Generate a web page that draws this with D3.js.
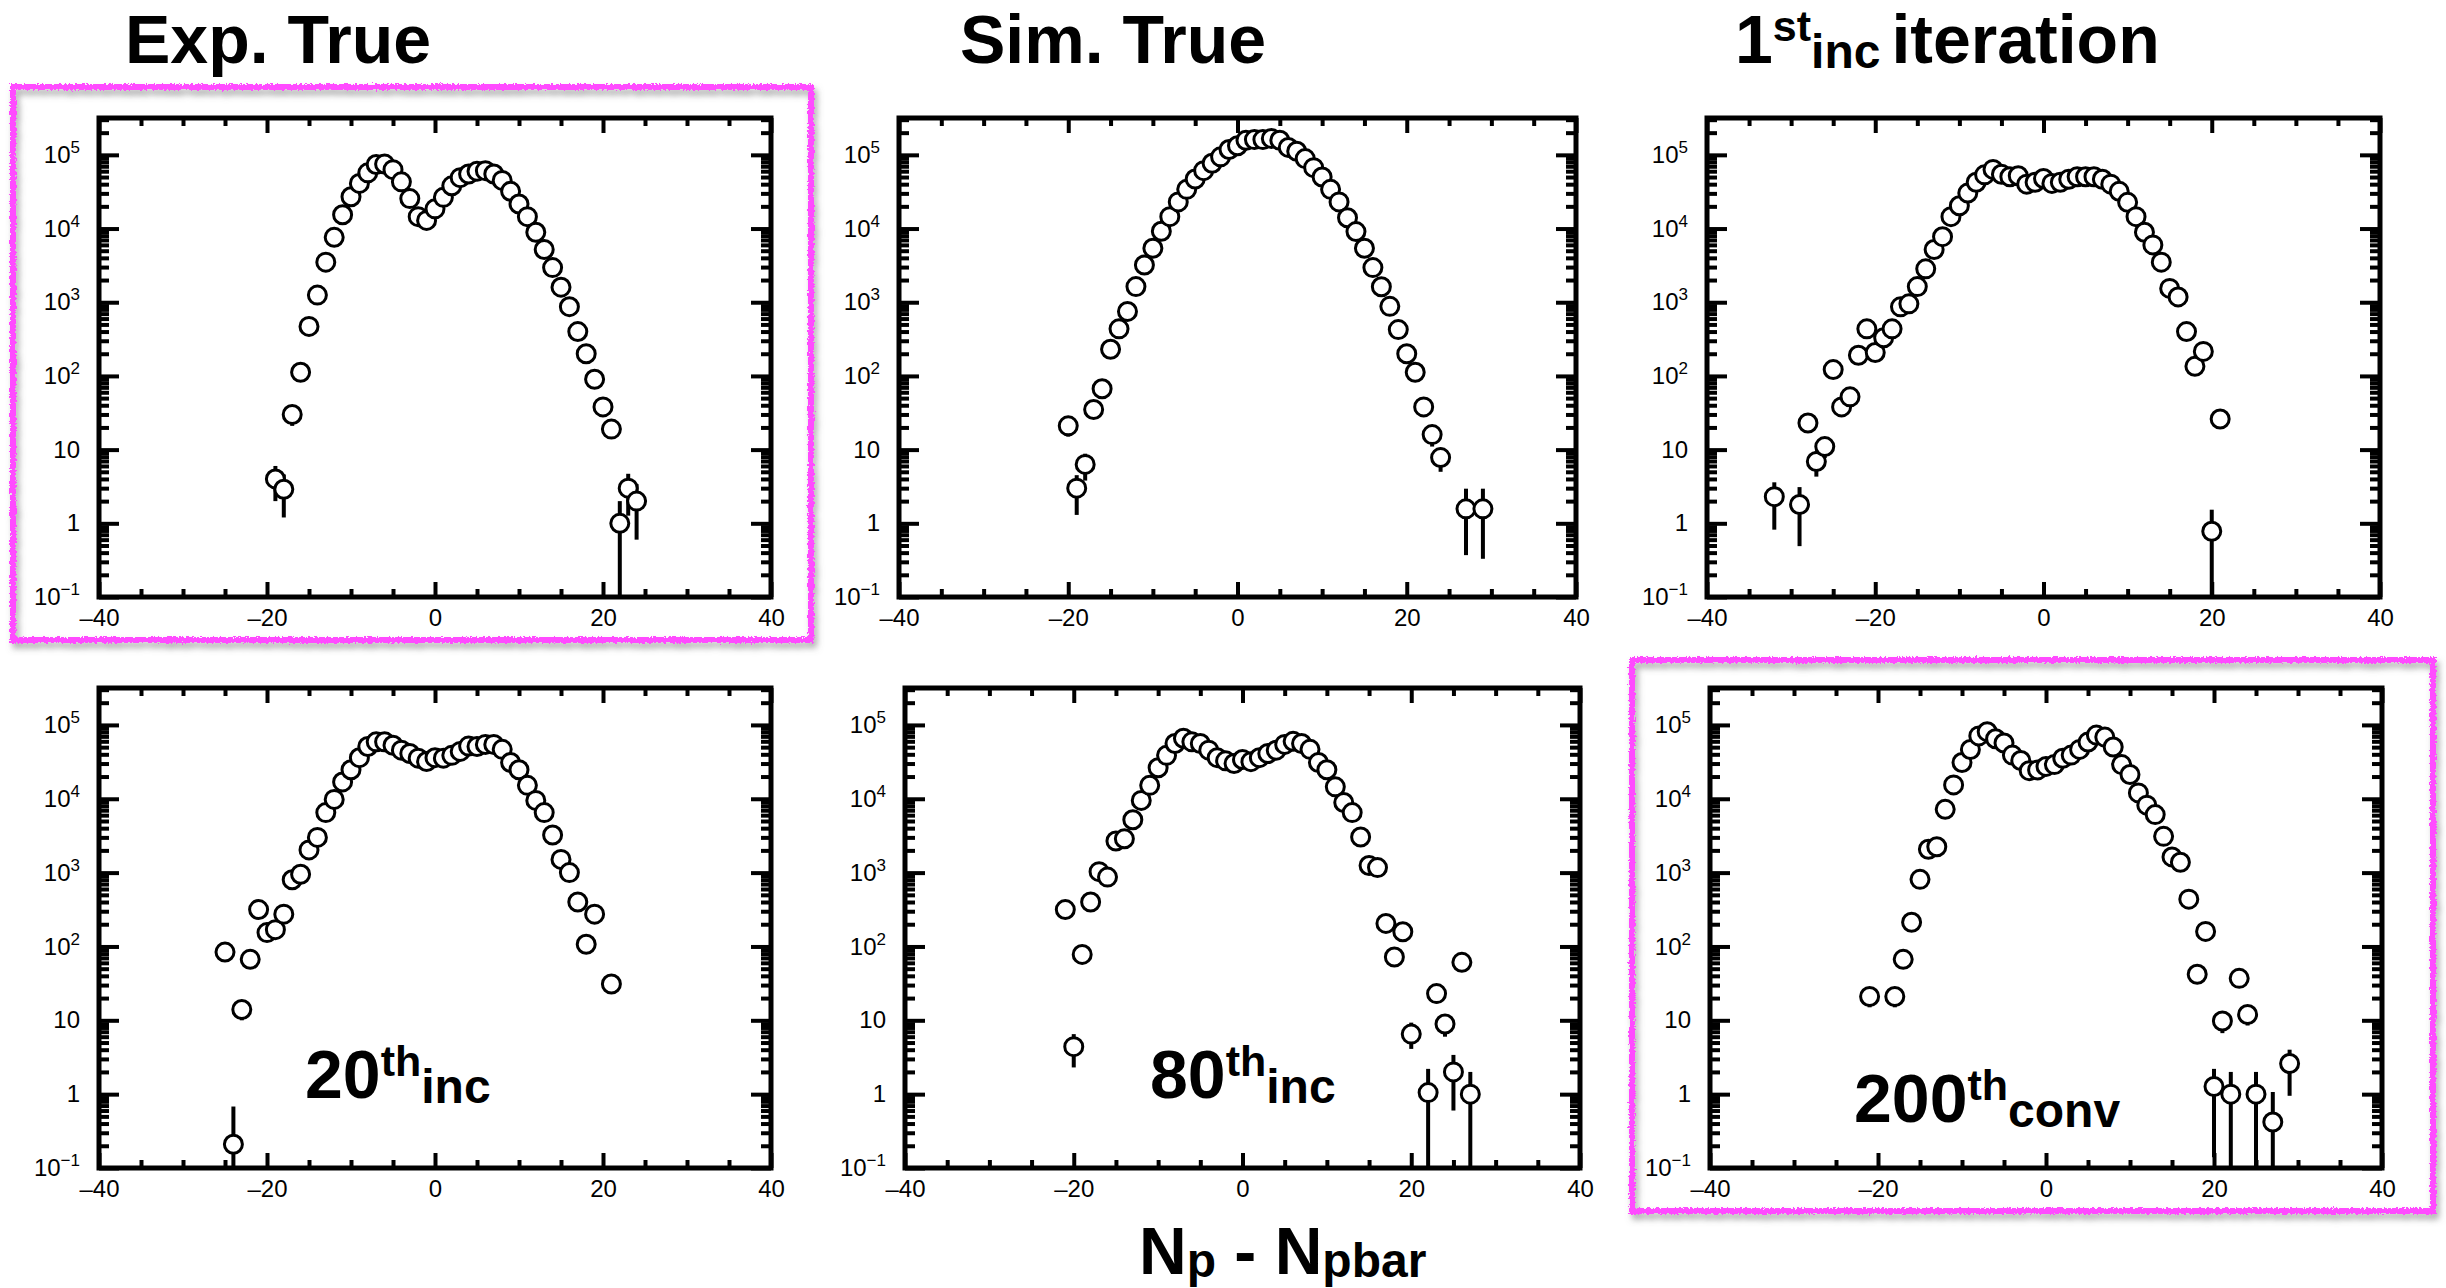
<!DOCTYPE html>
<html><head><meta charset="utf-8">
<script src="https://cdn.jsdelivr.net/npm/d3@7"></script>
<style>
html,body{margin:0;padding:0;background:#fff;}
svg{display:block;font-family:"Liberation Sans",Arial,Helvetica,sans-serif;}
</style></head><body>
<svg id="c" width="2446" height="1288"></svg>
<script>
// ---------------- data ----------------
const xTickMajor = [-40, -20, 0, 20, 40];
const xTickMinor = [-35, -30, -25, -15, -10, -5, 5, 10, 15, 25, 30, 35];
const yTickMajor = [0.1, 1, 10, 100, 1000, 10000, 100000];
const xDomain = [-40, 40];
const yDomain = [0.1, 316228];

const panelTitles = ["Exp. True", "Sim. True", "1st inc iteration"];

// Exp. True
const expX = [-19,-18,-17,-16,-15,-14,-13,-12,-11,-10,-9,-8,-7,-6,-5,-4,-3,-2,-1,0,1,2,3,4,5,6,7,8,9,10,11,12,13,14,15,16,17,18,19,20,21,22,23,24];
const expY = [4.0,2.9,30,112,470,1250,3500,7600,15400,27000,41000,57000,74000,75000,63000,43000,25500,14500,12900,18500,26500,38000,49000,55000,60000,61000,55000,45000,32000,21500,14500,8900,5200,2950,1600,870,400,200,90,38,19,1.0,3.0,2.0];
const expErr = [[-19,2.0,6.0],[-18,1.2,4.6],[-17,21,36],[21,14,24],[22,0,2.0],[23,1.27,4.7],[24,0.6,3.4]];

// Sim. True
const simX = [-20,-19,-18,-17,-16,-15,-14,-13,-12,-11,-10,-9,-8,-7,-6,-5,-4,-3,-2,-1,0,1,2,3,4,5,6,7,8,9,10,11,12,13,14,15,16,17,18,19,20,21,22,23,24,27,29];
const simY = [21,3.0,6.3,35,67,230,435,750,1630,3200,5400,9200,14500,23000,34000,47000,61000,77000,94000,118000,133000,158000,161000,161000,167000,158000,126000,112000,89000,67000,50000,34000,23000,14000,9100,5400,2950,1620,880,425,200,112,38,16,7.8,1.57,1.57];
const simErr = [[-20,15,26],[-19,1.3,4.5],[-18,3.8,8.8],[22,31,45],[23,11,21],[24,5,10.6],[27,0.37,2.95],[29,0.33,2.95]];

// 1st inc iteration
const it1X = [-32,-29,-28,-27,-26,-25,-24,-23,-22,-21,-20,-19,-18,-17,-16,-15,-14,-13,-12,-11,-10,-9,-8,-7,-6,-5,-4,-3,-2,-1,0,1,2,3,4,5,6,7,8,9,10,11,12,13,14,15,16,17,18,19,20,21];
const it1Y = [2.3,1.8,23,6.9,11,122,38,52,191,435,208,330,435,865,950,1630,2840,5200,7750,14500,20400,30300,42500,53500,63500,54500,50500,52000,40000,42500,47800,41000,42500,46700,50500,50500,50500,46700,40000,32000,22700,14500,8900,6000,3500,1540,1180,400,135,215,0.78,26];
const it1Err = [[-32,0.82,3.6],[-29,0.49,3.1],[-28,17,28],[-27,4.3,9.5],[-26,7.7,14.5],[20,0,1.53],[21,20,31]];

// 20th inc
const it20X = [-25,-24,-23,-22,-21,-20,-19,-18,-17,-16,-15,-14,-13,-12,-11,-10,-9,-8,-7,-6,-5,-4,-3,-2,-1,0,1,2,3,4,5,6,7,8,9,10,11,12,13,14,15,16,17,18,19,21];
const it20Y = [84,0.21,14,67,316,154,169,274,800,950,2030,3000,6500,9800,16900,24700,36000,51000,59000,59000,53000,45500,41000,35500,32000,36000,35500,38700,43800,51700,51000,54500,54500,46700,31000,24700,15200,9500,6500,3230,1510,1000,400,107,274,31];
const it20Err = [[-24,0,0.68],[-23,10,18],[21,24,37]];

// 80th inc
const it80X = [-21,-20,-19,-18,-17,-16,-15,-14,-13,-12,-11,-10,-9,-8,-7,-6,-5,-4,-3,-2,-1,0,1,2,3,4,5,6,7,8,9,10,11,12,13,14,15,16,17,18,19,20,22,23,24,25,26,27];
const it80Y = [316,4.4,78,400,1030,870,2680,2870,5200,9500,15200,26300,38700,56000,66000,59000,56000,45500,36000,32600,30000,34000,31800,36000,41000,45500,54500,60000,56000,46700,31000,24700,14500,8900,6500,3040,1250,1170,205,72,158,6.5,1.05,23,8.9,2.0,61,1.0];
const it80Err = [[-20,2.3,6.5],[20,4.1,9.3],[22,0,2.2],[23,17,28],[24,6,11.9],[25,0.6,3.4],[27,0,2.0]];

// 200th conv
const convX = [-21,-18,-17,-16,-15,-14,-13,-12,-11,-10,-9,-8,-7,-6,-5,-4,-3,-2,-1,0,1,2,3,4,5,6,7,8,9,10,11,12,13,14,15,16,17,18,19,20,21,22,23,24,25,27,29];
const convY = [21,21,67,213,810,2070,2240,7200,15400,31000,46500,71000,81000,65000,57000,39000,33000,24000,24600,27400,29000,35400,39000,46600,58600,72800,68400,50300,29000,21300,12000,8200,6100,3100,1630,1380,437,42,160,1.27,9.8,1.0,37,12,1.0,0.42,2.6];
const convErr = [[-21,15,26],[-18,15,26],[20,0.14,2.2],[21,6.7,12.9],[22,0,2.0],[24,8.5,15.5],[25,0,2.0],[27,0,1.07],[29,0.95,4.0]];

// ---------------- layout ----------------
const panels = [
  {xs: expX, ys: expY, err: expErr, frame: [99, 118, 771, 597]},
  {xs: simX, ys: simY, err: simErr, frame: [899, 118, 1576, 597]},
  {xs: it1X, ys: it1Y, err: it1Err, frame: [1707, 118, 2380, 597]},
  {xs: it20X, ys: it20Y, err: it20Err, frame: [99, 688, 771, 1168]},
  {xs: it80X, ys: it80Y, err: it80Err, frame: [905, 688, 1580, 1168]},
  {xs: convX, ys: convY, err: convErr, frame: [1710, 688, 2382, 1168]}
];

const svg = d3.select("#c");
svg.append("rect").attr("width", 2446).attr("height", 1288).attr("fill", "#fff");

const defs = svg.append("defs");
const flt = defs.append("filter").attr("id", "rough")
  .attr("x", "-3%").attr("y", "-3%").attr("width", "106%").attr("height", "106%");
flt.append("feTurbulence").attr("type", "fractalNoise").attr("baseFrequency", "0.45")
  .attr("numOctaves", 2).attr("seed", 4).attr("result", "n");
flt.append("feDisplacementMap").attr("in", "SourceGraphic").attr("in2", "n").attr("scale", 5)
  .attr("xChannelSelector", "R").attr("yChannelSelector", "G").attr("result", "d");
flt.append("feDropShadow").attr("in", "d").attr("dx", 3).attr("dy", 5).attr("stdDeviation", 3)
  .attr("flood-color", "#666").attr("flood-opacity", 0.55);

// highlight boxes
[[13, 87, 811, 640], [1632, 660, 2433, 1211]].forEach(b => {
  svg.append("rect").attr("x", b[0]).attr("y", b[1]).attr("width", b[2] - b[0]).attr("height", b[3] - b[1])
    .attr("fill", "none").attr("stroke", "#ff4cff").attr("stroke-width", 6).attr("filter", "url(#rough)");
});

function yMinorTicks() {
  const out = [];
  for (let e = -1; e <= 5; e++) for (let k = 2; k <= 9; k++) {
    const v = k * Math.pow(10, e);
    if (v < yDomain[1]) out.push(v);
  }
  return out;
}
const yTickMinor = yMinorTicks();

function styleAxis(g) {
  g.select(".domain").remove();
  g.selectAll(".tick line").attr("stroke", "#000").attr("stroke-width", 4);
  g.selectAll(".tick text").attr("fill", "#000").attr("font-size", 24)
    .attr("font-family", "'Liberation Sans',Arial,sans-serif");
}

function drawPanel(p) {
  const [l, t, r, b] = p.frame;
  const x = d3.scaleLinear().domain(xDomain).range([l, r]);
  const y = d3.scaleLog().domain(yDomain).range([b, t]);
  const g = svg.append("g");

  // error bars
  g.selectAll("line.eb").data(p.err).join("line").attr("class", "eb")
    .attr("x1", d => x(d[0])).attr("x2", d => x(d[0]))
    .attr("y1", d => d[1] <= yDomain[0] ? b : y(d[1]))
    .attr("y2", d => y(d[2]))
    .attr("stroke", "#000").attr("stroke-width", 4);

  // markers
  const pts = p.xs.map((v, i) => [v, p.ys[i]]);
  g.selectAll("circle").data(pts).join("circle")
    .attr("cx", d => x(d[0])).attr("cy", d => y(d[1])).attr("r", 9)
    .attr("fill", "#fff").attr("stroke", "#000").attr("stroke-width", 3);

  // x axes
  const fmtX = v => v < 0 ? "\u2013" + Math.abs(v) : String(v);
  g.append("g").attr("transform", `translate(0,${b})`)
    .call(d3.axisBottom(x).tickValues(xTickMajor).tickSize(-15).tickPadding(12).tickFormat(fmtX)).call(styleAxis);
  g.append("g").attr("transform", `translate(0,${b})`)
    .call(d3.axisBottom(x).tickValues(xTickMinor).tickSize(-8).tickFormat("")).call(styleAxis);
  g.append("g").attr("transform", `translate(0,${t})`)
    .call(d3.axisTop(x).tickValues(xTickMajor).tickSize(-15).tickFormat("")).call(styleAxis);
  g.append("g").attr("transform", `translate(0,${t})`)
    .call(d3.axisTop(x).tickValues(xTickMinor).tickSize(-8).tickFormat("")).call(styleAxis);

  // y axes
  const ly = g.append("g").attr("transform", `translate(${l},0)`)
    .call(d3.axisLeft(y).tickValues(yTickMajor).tickSize(-20).tickPadding(19)).call(styleAxis);
  ly.selectAll(".tick text").each(function (d) {
    const s = d3.select(this);
    s.text(null);
    const e = Math.round(Math.log10(d));
    if (e === 0) s.text("1");
    else if (e === 1) s.text("10");
    else {
      s.append("tspan").text("10");
      s.append("tspan").attr("font-size", 17).attr("dy", -10).text(e < 0 ? "\u2212" + (-e) : String(e));
    }
  });
  g.append("g").attr("transform", `translate(${l},0)`)
    .call(d3.axisLeft(y).tickValues(yTickMinor).tickSize(-10).tickFormat("")).call(styleAxis);
  g.append("g").attr("transform", `translate(${r},0)`)
    .call(d3.axisRight(y).tickValues(yTickMajor).tickSize(-20).tickFormat("")).call(styleAxis);
  g.append("g").attr("transform", `translate(${r},0)`)
    .call(d3.axisRight(y).tickValues(yTickMinor).tickSize(-10).tickFormat("")).call(styleAxis);

  // frame
  g.append("rect").attr("x", l).attr("y", t).attr("width", r - l).attr("height", b - t)
    .attr("fill", "none").attr("stroke", "#000").attr("stroke-width", 5);
}
panels.forEach(drawPanel);

// rich bold labels
function rich(x, y, parts) {
  const tx = svg.append("text").attr("x", x).attr("y", y).attr("font-weight", "bold")
    .attr("fill", "#000").attr("font-family", "'Liberation Sans',Arial,sans-serif");
  let cur = 0;
  parts.forEach(pt => {
    const ts = tx.append("tspan").attr("font-size", pt.s).text(pt.t);
    const off = pt.o || 0;
    if (off !== cur) ts.attr("dy", off - cur);
    cur = off;
    if (pt.dx) ts.attr("dx", pt.dx);
  });
  return tx;
}
rich(125, 63, [{t: "Exp. True", s: 68}]);
rich(960, 63, [{t: "Sim. True", s: 68}]);
rich(1735, 63, [{t: "1", s: 68}, {t: "st", s: 43, o: -22}, {t: "inc", s: 48, o: 5}, {t: "iteration", s: 68, o: 0, dx: 11}]);

rich(305, 1098, [{t: "20", s: 68}, {t: "th", s: 43, o: -22}, {t: "inc", s: 48, o: 5}]);
rich(1150, 1098, [{t: "80", s: 68}, {t: "th", s: 43, o: -22}, {t: "inc", s: 48, o: 5}]);
rich(1854, 1122, [{t: "200", s: 68}, {t: "th", s: 43, o: -22}, {t: "conv", s: 48, o: 5}]);

rich(1139, 1274, [{t: "N", s: 66}, {t: "p", s: 48, o: 3}, {t: " - N", s: 66, o: 0}, {t: "pbar", s: 48, o: 3}]);
</script>
</body></html>
